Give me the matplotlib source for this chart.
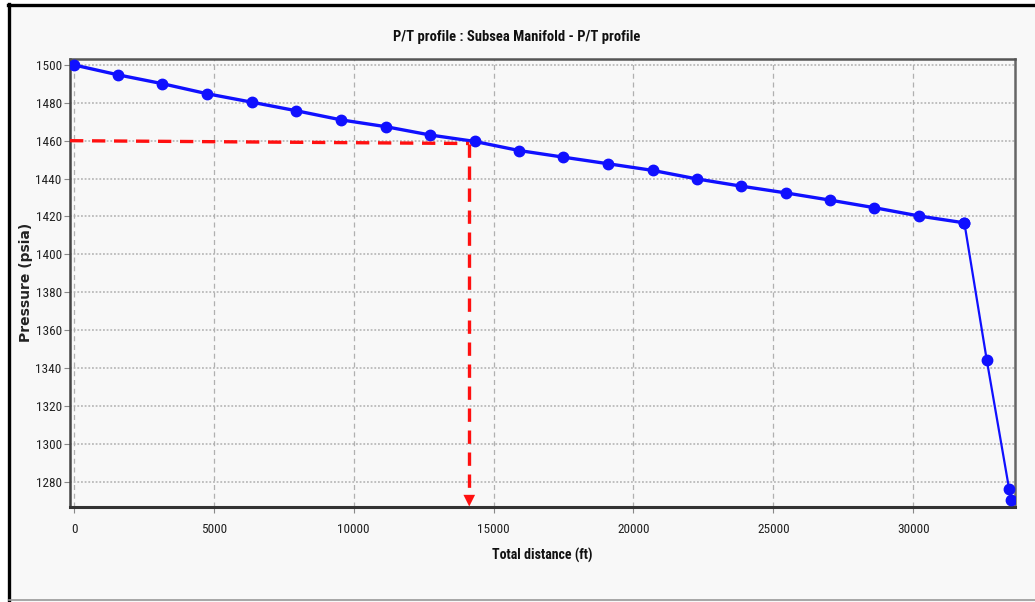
import matplotlib.pyplot as plt
from matplotlib.lines import Line2D
import matplotlib.font_manager as fm

# P/T profile along the flowline to the subsea manifold
distance_ft = [0, 1565, 3160, 4755, 6365, 7950, 9545, 11145, 12730, 14325,
               15910, 17495, 19100, 20690, 22265, 23845, 25455, 27030, 28615,
               30220, 31830, 32630, 33430, 33510]
pressure_psia = [1500.0, 1494.8, 1490.1, 1484.8, 1480.3, 1475.8, 1471.0, 1467.4,
                 1463.0, 1459.6, 1454.8, 1451.3, 1447.8, 1444.3, 1439.8, 1436.0,
                 1432.4, 1428.6, 1424.6, 1420.2, 1416.6, 1344.2, 1276.0, 1270.3]

# reading taken off the curve
read_x = 14130
read_p = 1460
read_p_end = 1458.5

x_ticks = [0, 5000, 10000, 15000, 20000, 25000, 30000]
y_ticks = list(range(1280, 1501, 20))

installed = {f.name for f in fm.fontManager.ttflist}
narrow = next((n for n in ['Liberation Sans Narrow', 'DejaVu Sans Condensed',
                           'Roboto Condensed', 'Roboto'] if n in installed),
              'DejaVu Sans')

fig = plt.figure(figsize=(10.35, 6.02), dpi=100)
fig.patch.set_facecolor('white')

# panel background and frame
fig.patches.append(plt.Rectangle((8 / 1035, 0), 1 - 8 / 1035, 1 - 4 / 602,
                                 transform=fig.transFigure, facecolor='#f8f8f8',
                                 edgecolor='none', zorder=-10))
fig.lines.append(Line2D([8 / 1035, 1], [1 - 4.5 / 602, 1 - 4.5 / 602],
                        transform=fig.transFigure, color='black', lw=2.4))
fig.lines.append(Line2D([9 / 1035, 9 / 1035], [0, 1 - 3.5 / 602],
                        transform=fig.transFigure, color='black', lw=2.4))
fig.lines.append(Line2D([9 / 1035, 1], [2 / 602, 2 / 602],
                        transform=fig.transFigure, color='#999999', lw=1.2))

ax = fig.add_axes([70 / 1035, 1 - 506.5 / 602, 945 / 1035, 448 / 602])
ax.set_facecolor('#f8f8f8')

ax.set_xlim(-143, 33640)
ax.set_ylim(1266.8, 1503.4)
ax.set_xticks(x_ticks)
ax.set_yticks(y_ticks)

ax.grid(axis='x', color='#b0b0b0', linestyle=(0, (4, 3)), linewidth=0.9)
ax.grid(axis='y', color='#b0b0b0', linestyle=(0, (1.2, 1.2)), linewidth=1.1)
ax.set_axisbelow(True)

ax.plot(distance_ft[:21], pressure_psia[:21], color='#1010ff', lw=2.4,
        marker='o', markersize=7.5, zorder=3)
ax.plot(distance_ft[20:], pressure_psia[20:], color='#1010ff', lw=1.6,
        marker='o', markersize=7.5, zorder=3)

# red reading guide: across to the curve, then down to the distance axis
xmin, xmax = ax.get_xlim()
ymin, ymax = ax.get_ylim()
ax.plot([xmin, read_x], [read_p, read_p_end], color='#ff1010', lw=2.4,
        linestyle=(0, (4, 2.6)), zorder=4)
ax.plot([read_x, read_x], [read_p_end, ymin + 5], color='#ff1010', lw=2.4,
        linestyle=(0, (4, 2.6)), zorder=4)
ax.annotate('', xy=(read_x, ymin), xytext=(read_x, ymin + 7),
            arrowprops=dict(arrowstyle='-|>,head_length=0.6,head_width=0.3',
                            mutation_scale=14, color='#ff1010', lw=0,
                            shrinkA=0, shrinkB=0),
            zorder=5)

for side, c, w in [('left', '#444444', 1.8), ('bottom', '#333333', 2.2),
                   ('top', '#555555', 1.8), ('right', '#666666', 1.8)]:
    ax.spines[side].set_color(c)
    ax.spines[side].set_linewidth(w)

ax.tick_params(axis='both', direction='out', length=4, width=0.8,
               color='#888888', labelcolor='#222222', labelsize=9.5)
for lbl in ax.get_xticklabels() + ax.get_yticklabels():
    lbl.set_family([narrow, 'DejaVu Sans'])
ax.tick_params(axis='x', pad=8)
ax.tick_params(axis='y', pad=2)

fig.text(517 / 1035, 1 - 37 / 602, 'P/T profile : Subsea Manifold - P/T profile',
         ha='center', va='center', fontsize=10.5, fontweight='bold',
         family=[narrow, 'DejaVu Sans'], color='#111111')
fig.text(542 / 1035, 1 - 555 / 602, 'Total distance (ft)', ha='center',
         va='center', fontsize=10, fontweight='bold',
         family=[narrow, 'DejaVu Sans'], color='#111111')
fig.text(26 / 1035, 1 - 282 / 602, 'Pressure (psia)', ha='center', va='center',
         rotation=90, fontsize=10, fontweight='bold',
         family=['DejaVu Sans'], color='#222222')

fig.savefig('out.png', dpi=100, facecolor=fig.get_facecolor())
